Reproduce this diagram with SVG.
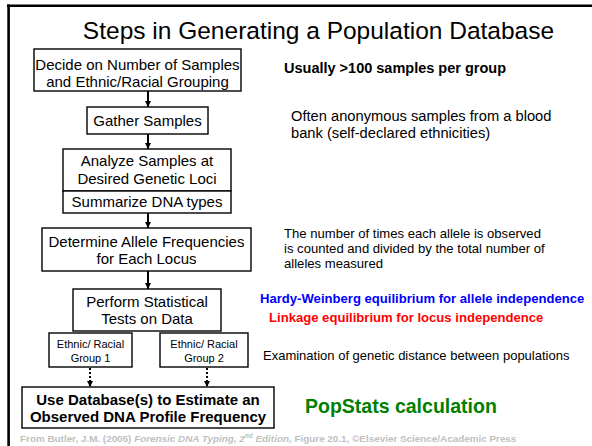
<svg xmlns="http://www.w3.org/2000/svg" width="592" height="446" viewBox="0 0 592 446">
<style>
text{font-family:"Liberation Sans",Arial,sans-serif;fill:#000}
.box{fill:#fff;stroke:#000;stroke-width:1.4}
.b15{font-size:15px;text-anchor:middle}
.b11{font-size:11px;text-anchor:middle}
.bold{font-weight:bold}
.conn{stroke:#000;stroke-width:2;fill:none}
.dot{stroke:#000;stroke-width:2;stroke-dasharray:2 2;fill:none}
</style>
<defs>
<marker id="ah" viewBox="0 0 10 10" refX="10" refY="5" markerWidth="3.2" markerHeight="3.2" orient="auto" markerUnits="strokeWidth">
<path d="M0,0 L10,5 L0,10 z" fill="#000"/>
</marker>
</defs>
<rect width="592" height="446" fill="#fff"/>
<g id="frame">
<line x1="7" y1="5.8" x2="592" y2="5.8" stroke="#000" stroke-width="2.6"/>
<line x1="8.6" y1="4.5" x2="8.6" y2="446" stroke="#000" stroke-width="2.6"/>
</g>
<text x="318.5" y="39" font-size="24.5" text-anchor="middle">Steps in Generating a Population Database</text>

<g id="connectors">
<line class="conn" x1="148" y1="91" x2="148" y2="107" marker-end="url(#ah)"/>
<line class="conn" x1="148" y1="134" x2="148" y2="149" marker-end="url(#ah)"/>
<line class="conn" x1="148" y1="213" x2="148" y2="228" marker-end="url(#ah)"/>
<line class="conn" x1="148" y1="271" x2="148" y2="289" marker-end="url(#ah)"/>
<line class="dot" x1="90" y1="368" x2="90" y2="387" marker-end="url(#ah)"/>
<line class="dot" x1="207" y1="368" x2="207" y2="387" marker-end="url(#ah)"/>
</g>

<g id="decide">
<rect class="box" x="34" y="49" width="207" height="42"/>
<text class="b15" x="137.5" y="70">Decide on Number of Samples</text>
<text class="b15" x="137.5" y="87">and Ethnic/Racial Grouping</text>
</g>
<g id="gather">
<rect class="box" x="87" y="107" width="121" height="27"/>
<text class="b15" x="147.5" y="125.5">Gather Samples</text>
</g>
<g id="analyze">
<rect class="box" x="63" y="149" width="168" height="42"/>
<text class="b15" x="147" y="166">Analyze Samples at</text>
<text class="b15" x="147" y="183.5">Desired Genetic Loci</text>
</g>
<g id="summarize">
<rect class="box" x="63" y="191" width="168" height="22"/>
<text class="b15" x="147" y="207">Summarize DNA types</text>
</g>
<g id="determine">
<rect class="box" x="42" y="228" width="209" height="43"/>
<text class="b15" x="146.5" y="247">Determine Allele Frequencies</text>
<text class="b15" x="146.5" y="264">for Each Locus</text>
</g>
<g id="perform">
<rect class="box" x="73" y="289" width="148" height="42"/>
<text class="b15" x="147" y="307">Perform Statistical</text>
<text class="b15" x="147" y="324">Tests on Data</text>
</g>
<g id="group1">
<rect class="box" x="49" y="333" width="83" height="34"/>
<text class="b11" x="90.5" y="348">Ethnic/ Racial</text>
<text class="b11" x="90.5" y="362">Group 1</text>
</g>
<g id="group2">
<rect class="box" x="160" y="333" width="88" height="34"/>
<text class="b11" x="204" y="348">Ethnic/ Racial</text>
<text class="b11" x="204" y="362">Group 2</text>
</g>
<g id="usedb">
<rect class="box" x="22" y="387" width="252" height="41"/>
<text class="b15 bold" x="148" y="405">Use Database(s) to Estimate an</text>
<text class="b15 bold" x="148" y="422">Observed DNA Profile Frequency</text>
</g>

<g id="notes">
<text x="284" y="73" font-size="14.5" font-weight="bold">Usually &gt;100 samples per group</text>
<text x="291" y="121" font-size="14.7">Often anonymous samples from a blood</text>
<text x="291" y="138" font-size="14.7">bank (self-declared ethnicities)</text>
<text x="284" y="237.5" font-size="13.1">The number of times each allele is observed</text>
<text x="284" y="252.8" font-size="13.1">is counted and divided by the total number of</text>
<text x="284" y="268" font-size="13.1">alleles measured</text>
<text x="260" y="303" font-size="13.1" font-weight="bold" style="fill:#0000ff">Hardy-Weinberg equilibrium for allele independence</text>
<text x="269" y="322" font-size="13.1" font-weight="bold" style="fill:#ff0000">Linkage equilibrium for locus independence</text>
<text x="263" y="360" font-size="13">Examination of genetic distance between populations</text>
<text x="305" y="413" font-size="19.5" font-weight="bold" style="fill:#008000">PopStats calculation</text>
</g>
<text x="20" y="441.5" font-size="9.9" font-weight="bold" style="fill:#bfbfbf">From Butler, J.M. (2005) <tspan font-style="italic" style="fill:#bfbfbf">Forensic DNA Typing, 2<tspan font-size="6.5" dy="-3.5">nd</tspan><tspan dy="3.5"> Edition,</tspan></tspan> Figure 20.1, ©Elsevier Science/Academic Press</text>
</svg>
